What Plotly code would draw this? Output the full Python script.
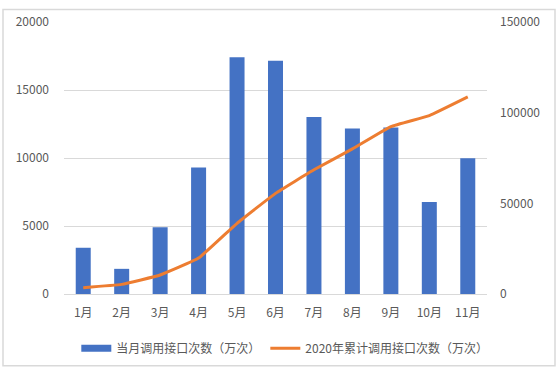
import plotly.graph_objects as go

months = ["1月", "2月", "3月", "4月", "5月", "6月", "7月", "8月", "9月", "10月", "11月"]
monthly_calls = [3400, 1850, 4900, 9300, 17400, 17150, 13020, 12170, 12240, 6760, 9990]
cumulative_calls = [3500, 5300, 10500, 19800, 39000, 55500, 68500, 80000, 92300, 98400, 108700]
bar_name = "当月调用接口次数（万次）"
line_name = "2020年累计调用接口次数（万次）"

font_family = "Noto Sans CJK SC, Microsoft YaHei, sans-serif"
tick_color = "#595959"
bar_color = "#4472C4"
line_color = "#ED7D31"

fig = go.Figure()
fig.add_trace(go.Bar(x=months, y=monthly_calls, name=bar_name, showlegend=False,
                     marker=dict(color=bar_color, line=dict(width=0)), yaxis="y"))
# legend entry for bars drawn as a thick band, like the reference
fig.add_trace(go.Scatter(x=[None], y=[None], name=bar_name, mode="lines",
                         line=dict(color=bar_color, width=7), yaxis="y"))
fig.add_trace(go.Scatter(x=months, y=cumulative_calls, name=line_name, mode="lines",
                         line=dict(color=line_color, width=3, shape="spline", smoothing=0.3),
                         yaxis="y2"))

fig.update_layout(
    width=559, height=375,
    margin=dict(l=64, r=72, t=16, b=78),
    paper_bgcolor="white", plot_bgcolor="white",
    font=dict(family=font_family, size=12, color=tick_color),
    bargap=0.61,
    showlegend=True,
    legend=dict(orientation="h", x=0.522, xanchor="center", y=-0.199, yanchor="middle",
                font=dict(size=12, color=tick_color), itemwidth=30,
                bgcolor="rgba(0,0,0,0)"),
    xaxis=dict(showgrid=False, showline=False, ticks="", tickfont=dict(size=12, color=tick_color),
               ticklabelstandoff=10),
    yaxis=dict(range=[0, 20000], dtick=5000, tickformat="d", showgrid=True, gridcolor="#D9D9D9",
               gridwidth=1, zeroline=True, zerolinecolor="#D9D9D9", zerolinewidth=1,
               showline=False, ticks="", tickfont=dict(size=12, color=tick_color),
               ticklabelstandoff=14),
    yaxis2=dict(range=[0, 150000], dtick=50000, tickformat="d", overlaying="y", side="right",
                showgrid=False, zeroline=False, showline=False, ticks="",
                tickfont=dict(size=12, color=tick_color), ticklabelstandoff=12),
    shapes=[dict(type="rect", xref="paper", yref="paper",
                 x0=-61 / 423, x1=(555 - 64) / 423, y0=-(371 - 297) / 281, y1=(297 - 3) / 281,
                 line=dict(color="#D9D9D9", width=1.5), fillcolor="rgba(0,0,0,0)", layer="above")],
)

fig.write_html("out.html", config={"displayModeBar": False},
               post_script="document.body.style.margin='0';document.body.style.overflow='hidden';")
